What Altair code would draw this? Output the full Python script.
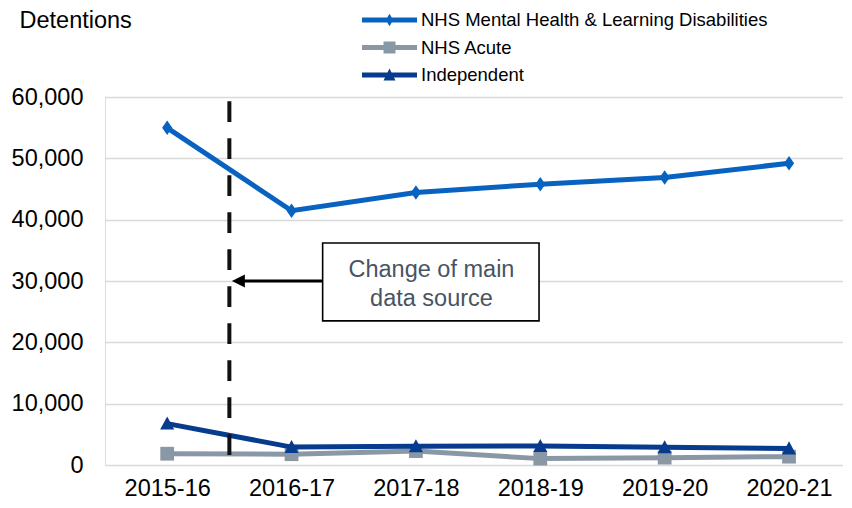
import json
import altair as alt
import pandas as pd

FONT = "Liberation Sans"

# ---------------- data ----------------
years = ["2015-16", "2016-17", "2017-18", "2018-19", "2019-20", "2020-21"]
series_names = ["NHS Mental Health & Learning Disabilities", "NHS Acute", "Independent"]
mh_values = [54970, 41460, 44440, 45790, 46880, 49190]
acute_values = [1840, 1760, 2270, 1040, 1200, 1360]
independent_values = [6750, 2920, 3050, 3100, 2880, 2700]
series_colors = ["#0862C0", "#8A98A5", "#073B8E"]
y_ticks = [0, 10000, 20000, 30000, 40000, 50000, 60000]

# annotation (x in category-index units, y in detentions)
source_change_at = [0.5]
dashed_top = [59300]
dashed_bottom = [1200]
arrow_level = [30000]
arrow_tip = [0.52]
arrow_start = [0.6]
box_left = [1.25]
box_right = [2.99]
box_bottom = [23500]
box_top = [36200]
note_lines = ["Change of main", "data source"]
note_x = [2.125, 2.125]
note_y = [30600, 25970]

# ---------------- shapes ----------------
diamond_path = "M0,-1 L0.7,0 L0,1 L-0.7,0 Z"
triangle_path = "M0,-1 L1,0.85 L-1,0.85 Z"
arrow_path = "M0,0 L2,-1 L2,1 Z"
bar = "M-1,-0.25 L4.5,-0.25 L4.5,0.25 L-1,0.25 Z"
legend_paths = [
    bar + " M1.75,-0.62 L2.12,0 L1.75,0.62 L1.38,0 Z",
    bar + " M1.15,-0.6 L2.35,-0.6 L2.35,0.6 L1.15,0.6 Z",
    bar + " M1.75,-0.65 L2.35,0.55 L1.15,0.55 Z",
]

x_enc = alt.X(
    "idx:Q",
    scale=alt.Scale(domain=[-0.5, 5.434], nice=False, zero=False),
    axis=alt.Axis(
        values=list(range(len(years))),
        labelExpr=json.dumps(years) + "[datum.value]",
        grid=False, ticks=False, domain=False,
        labelPadding=11, labelFontSize=23.5, labelColor="black",
        labelFont=FONT, title=None,
    ),
)
y_enc = alt.Y(
    "value:Q",
    scale=alt.Scale(domain=[0, 60000], nice=False),
    axis=alt.Axis(
        values=y_ticks,
        labelExpr="format(datum.value, ',.0f')",
        grid=True, gridColor="#D9D9D9", gridWidth=1.6,
        domain=False, ticks=False,
        labelPadding=22, labelFontSize=23.5, labelColor="black", labelFont=FONT,
        title="Detentions", titleAngle=0, titleAlign="left",
        titleBaseline="alphabetic", titleX=-86, titleY=-70,
        titleFontSize=23.5, titleFontWeight="normal", titleColor="black",
        titleFont=FONT,
    ),
)

def series_df(vals):
    return pd.DataFrame({"idx": list(range(len(years))), "value": vals})

layers = []
specs = [
    (acute_values, series_colors[1], "square", 190),
    (independent_values, series_colors[2], triangle_path, 200),
    (mh_values, series_colors[0], diamond_path, 210),
]
for vals, color, shape, size in specs:
    d = series_df(vals)
    layers.append(alt.Chart(d).mark_line(color=color, strokeWidth=5).encode(x=x_enc, y=y_enc))
    layers.append(
        alt.Chart(d).mark_point(shape=shape, size=size, filled=True, color=color,
                                opacity=1, strokeWidth=0).encode(x=x_enc, y=y_enc)
    )

# invisible layer that carries the legend
legend_df = pd.DataFrame({
    "idx": list(range(len(years))) * 3,
    "value": mh_values + acute_values + independent_values,
    "series": [series_names[0]] * 6 + [series_names[1]] * 6 + [series_names[2]] * 6,
})
leg = alt.Legend(
    title=None, orient="none", legendX=257, legendY=-87,
    symbolSize=400, symbolStrokeWidth=0, symbolOpacity=1,
    labelFontSize=18.5, labelOffset=39, rowPadding=7.5,
    labelFont=FONT, labelColor="black", labelLimit=600, padding=0,
)
layers.append(
    alt.Chart(legend_df).mark_point(filled=True, opacity=0).encode(
        x=x_enc, y=y_enc,
        color=alt.Color("series:N", scale=alt.Scale(domain=series_names, range=series_colors), legend=leg),
        shape=alt.Shape("series:N", scale=alt.Scale(domain=series_names, range=legend_paths), legend=leg),
    )
)

# dashed "change of source" line
dash_df = pd.DataFrame({"idx": source_change_at, "value": dashed_top, "value2": dashed_bottom})
layers.append(
    alt.Chart(dash_df).mark_rule(color="#111111", strokeWidth=4, strokeDash=[20.7, 16.3]).encode(
        x=x_enc, y=y_enc, y2="value2:Q"
    )
)

# arrow
arrow_df = pd.DataFrame({"idx": arrow_start, "idx2": box_left, "value": arrow_level})
layers.append(
    alt.Chart(arrow_df).mark_rule(color="black", strokeWidth=3).encode(x=x_enc, x2="idx2:Q", y=y_enc)
)
head_df = pd.DataFrame({"idx": arrow_tip, "value": arrow_level})
layers.append(
    alt.Chart(head_df).mark_point(shape=arrow_path, size=169, filled=True, color="black",
                                  opacity=1, strokeWidth=0).encode(x=x_enc, y=y_enc)
)

# box and text
box_df = pd.DataFrame({"idx": box_left, "idx2": box_right, "value": box_bottom, "value2": box_top})
layers.append(
    alt.Chart(box_df).mark_rect(fill="white", stroke="black", strokeWidth=1.6).encode(
        x=x_enc, x2="idx2:Q", y=y_enc, y2="value2:Q"
    )
)
note_df = pd.DataFrame({"idx": note_x, "value": note_y, "line": note_lines})
layers.append(
    alt.Chart(note_df).mark_text(fontSize=23.5, font=FONT, color="#475463",
                                 align="center", baseline="alphabetic").encode(
        x=x_enc, y=y_enc, text="line:N"
    )
)

chart = (
    alt.layer(*layers)
    .properties(
        width=738, height=368,
        autosize=alt.AutoSizeParams(type="none"),
        padding={"left": 97, "top": 89, "right": 0, "bottom": 35},
        background="white",
    )
    .configure_view(stroke=None)
    .configure(font=FONT)
)

chart.save("out.html", embed_options={"renderer": "svg", "actions": False})
